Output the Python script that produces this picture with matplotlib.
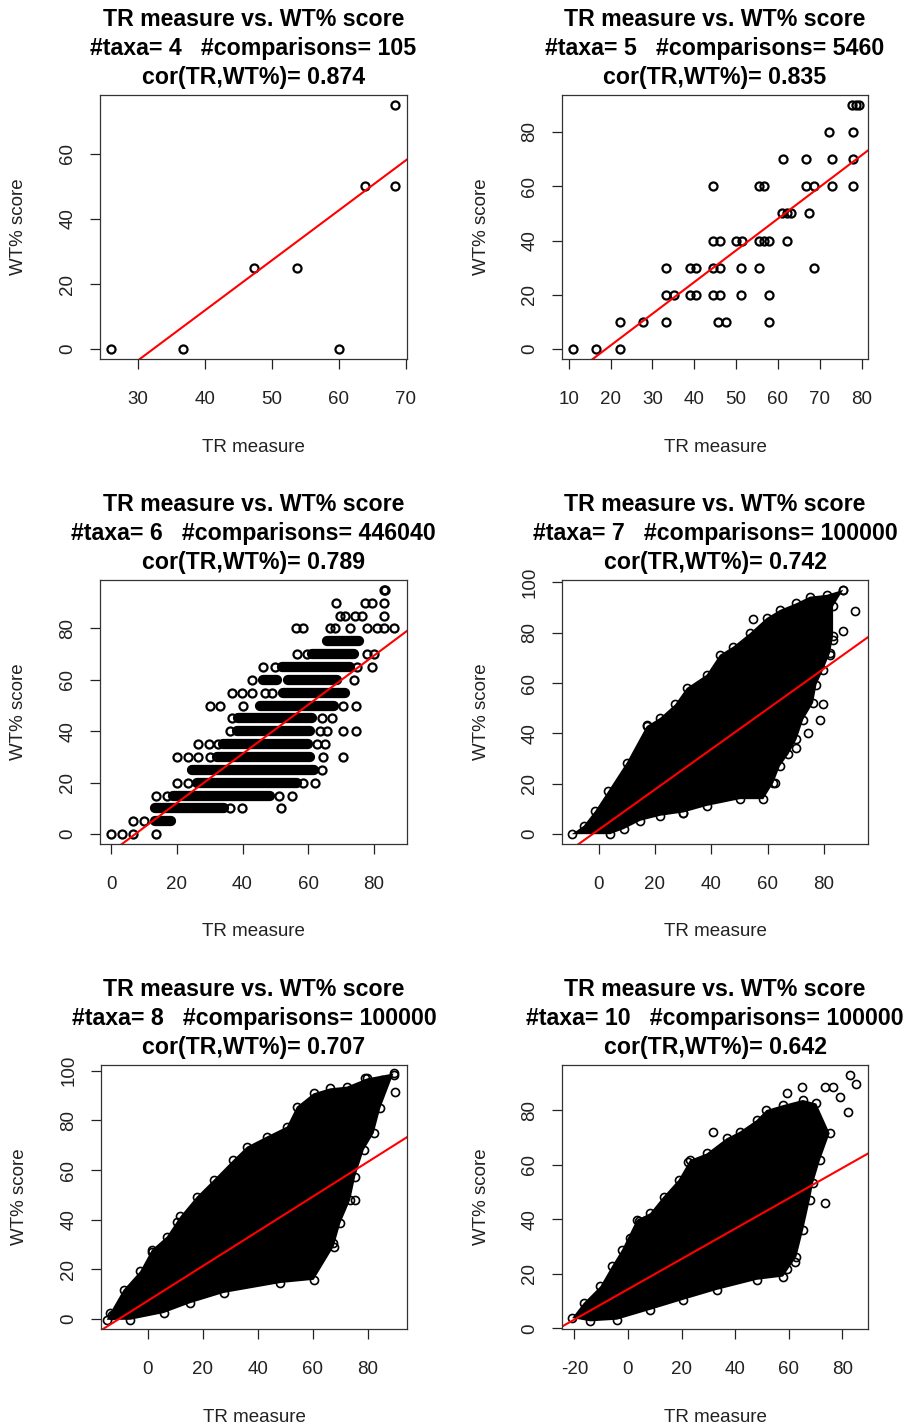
import matplotlib
matplotlib.use("Agg")
import matplotlib.pyplot as plt
import numpy as np

plt.rcParams["font.family"] = ["Liberation Sans", "DejaVu Sans"]
plt.rcParams["axes.unicode_minus"] = False

W, H = 906, 1428

# ---- panel 1: 4 taxa
P1_TR = [26.1, 36.8, 47.3, 53.8, 60.0, 64.0, 68.4, 68.4]
P1_WT = [0, 0, 25, 25, 0, 50, 50, 75]
P1_FIT = (-49.6, 1.536)            # intercept, slope of the red lm line

# ---- panel 2: 5 taxa (points grouped by WT% level)
P2_WT_LEVELS = [0, 10, 20, 30, 40, 50, 60, 70, 80, 90]
P2_TR_BY_LEVEL = [
    [11.0, 16.6, 22.2],
    [22.2, 27.8, 33.2, 45.7, 47.5, 57.8],
    [33.2, 35.1, 38.9, 40.5, 44.5, 46.1, 51.2, 57.8],
    [33.2, 38.9, 40.5, 44.5, 46.1, 51.2, 55.5, 68.5],
    [44.5, 46.1, 49.9, 51.5, 55.5, 56.7, 57.8, 62.1],
    [61.0, 62.2, 63.0, 67.4],
    [44.4, 55.5, 56.7, 66.6, 68.6, 73.0, 77.8],
    [61.2, 66.6, 73.0, 77.8],
    [72.2, 77.8],
    [77.6, 78.6, 79.4],
]
P2_FIT = (-22.0, 1.168)

# ---- panel 3: 6 taxa (solid runs of overlapping circles + single circles)
P3_WT_LEVELS = [0, 5, 10, 15, 20, 25, 30, 35, 40, 45, 50, 55, 60, 65, 70, 75, 80, 85, 90, 95]
P3_BANDS = [
    [], [(13.3, 18.3)], [(13.3, 34.4)], [(18.9, 48.4)], [(26.0, 56.6)],
    [(24.5, 61.7)], [(32.1, 60.7)], [(34.1, 60.1)], [(38.2, 60.7)], [(38.7, 61.2)],
    [(45.4, 67.8)], [(52.5, 71.4)], [(46.4, 50.5), (54.0, 68.8)], [(52.0, 72.9)],
    [(61.2, 73.9)], [(65.7, 75.4)], [], [], [], [],
]
P3_POINTS = [
    [0.0, 3.3, 6.6, 13.6],
    [6.6, 10.0],
    [36.2, 39.7, 51.8],
    [13.6, 16.8, 51.0, 55.0],
    [20.1, 23.4, 58.6, 62.2],
    [64.2],
    [20.1, 23.4, 26.5, 30.1, 64.7, 70.8],
    [26.5, 29.9, 32.6, 62.7, 65.2],
    [36.2, 63.7, 65.7, 70.8, 74.6],
    [36.7, 64.2, 67.3],
    [30.1, 33.1, 40.0, 70.8, 74.6],
    [36.7, 39.8, 42.8, 46.9, 48.9],
    [42.8, 73.9],
    [46.4, 50.0, 74.9, 79.5],
    [56.6, 59.6, 78.0, 80.0],
    [],
    [56.4, 58.6, 66.8, 68.3, 72.9, 78.0, 81.0, 83.1, 86.1],
    [69.8, 71.4, 74.4, 76.5, 83.1],
    [68.5, 77.5, 79.5, 83.1],
    [83.1, 83.6],
]
P3_FIT = (-6.85, 0.952)

# ---- panel 4: 7 taxa (dense cloud outline + stray points)
P4_HULL_TR = [-9.5, -5.3, -1.2, 3.5, 10.0, 17.1, 21.9, 27.2, 31.3, 38.4, 43.1, 47.9, 53.8,
              59.7, 64.4, 70.3, 75.1, 81.0, 86.9, 83.3, 83.3, 82.2, 79.8, 77.4, 76.2, 72.7,
              70.3, 67.4, 64.4, 62.1, 58.5, 50.2, 38.4, 30.1, 21.9, 14.8, 8.9, 4.1]
P4_HULL_WT = [0.0, 3.3, 9.2, 17.2, 28.4, 42.9, 46.2, 51.5, 58.0, 63.3, 71.2, 74.5, 79.8,
              85.8, 89.0, 91.7, 94.3, 95.0, 97.0, 90.4, 78.5, 71.9, 65.3, 59.4, 52.1, 45.5,
              37.6, 31.7, 27.0, 20.4, 13.9, 13.9, 11.2, 8.6, 7.3, 5.3, 2.0, 0.0]
P4_OUT_TR = [55.0, 91.0, 86.9, 83.3, 82.2, 79.6, 78.6, 74.5, 70.3, 62.6, 30.1, 17.1, 86.9]
P4_OUT_WT = [85.4, 88.4, 80.5, 77.2, 71.2, 51.5, 45.5, 40.2, 34.3, 20.4, 8.6, 43.3, 97.0]
P4_FIT = (1.75, 0.799)

# ---- panel 5: 8 taxa
P5_HULL_TR = [-14.8, -13.6, -8.7, -2.7, 1.6, 7.0, 11.9, 17.9, 24.0, 31.2, 36.1, 43.3, 50.6,
              54.2, 60.3, 66.3, 72.4, 79.7, 89.3, 84.5, 82.1, 78.5, 75.4, 73.6, 70.0, 67.6,
              60.3, 48.2, 27.6, 15.5, 5.8, -6.3]
P5_HULL_WT = [-0.3, 2.4, 11.8, 19.2, 27.9, 33.2, 41.3, 49.3, 56.0, 64.1, 69.4, 73.5, 77.5,
              85.5, 90.9, 92.9, 93.6, 96.9, 98.9, 84.9, 74.8, 68.1, 57.4, 48.0, 38.6, 29.2,
              15.8, 14.5, 10.5, 6.4, 2.4, -0.3]
P5_OUT_TR = [89.3, 89.9, 85.1, 79.1, 75.4, 67.3, 10.7, 1.6, -13.0]
P5_OUT_WT = [98.3, 91.6, 96.2, 96.9, 48.0, 30.6, 39.0, 27.2, 1.7]
P5_FIT = (7.3, 0.70)

# ---- panel 6: 10 taxa
P6_HULL_TR = [-20.8, -16.5, -10.3, -6.0, -2.2, 3.3, 8.3, 13.3, 18.9, 23.2, 29.4, 36.8, 41.8,
              48.0, 51.7, 57.9, 65.3, 70.3, 75.3, 71.7, 69.1, 67.9, 65.4, 62.9, 57.9, 48.0,
              33.1, 20.7, 8.3, -4.1, -14.0]
P6_HULL_WT = [3.8, 9.3, 15.4, 22.7, 28.8, 39.8, 42.2, 48.3, 54.4, 61.7, 64.1, 69.6, 72.1,
              76.3, 80.0, 81.8, 83.7, 82.4, 71.5, 61.7, 53.2, 47.1, 36.1, 26.3, 19.0, 17.8,
              14.1, 10.5, 6.8, 3.2, 2.6]
P6_OUT_TR = [82.8, 85.2, 82.1, 79.0, 73.4, 76.6, 64.8, 59.2, 31.6, 22.6, 73.4, 59.2, 62.3,
             0.9, 4.0]
P6_OUT_WT = [92.8, 89.4, 79.4, 84.9, 88.5, 88.5, 88.5, 86.3, 72.1, 61.1, 45.9, 21.8, 24.5,
             33.0, 39.5]
P6_FIT = (14.35, 0.555)

TAXA = [4, 5, 6, 7, 8, 10]
COMPARISONS = [105, 5460, 446040, 100000, 100000, 100000]
CORS = ["0.874", "0.835", "0.789", "0.742", "0.707", "0.642"]

XLIMS = [(24.4, 70.2), (8.4, 81.5), (-3.5, 90.2), (-13.0, 95.7), (-16.9, 94.2), (-24.6, 89.6)]
YLIMS = [(-3.0, 78.0), (-3.6, 93.6), (-3.8, 98.8), (-3.9, 100.9), (-4.0, 102.3), (-0.2, 96.5)]
XTICKS = [range(30, 71, 10), range(10, 81, 10), range(0, 81, 20),
          range(0, 81, 20), range(0, 81, 20), range(-20, 81, 20)]
YTICKS = [range(0, 61, 20), range(0, 81, 20), range(0, 81, 20),
          range(0, 101, 20), range(0, 101, 20), range(0, 81, 20)]

# pixel boxes (left, top, right, bottom)
BOXES = [(100, 95, 407, 359), (562, 95, 868, 359),
         (100, 580, 407, 844), (562, 580, 868, 844),
         (101, 1065, 407, 1329), (562, 1065, 868, 1329)]

MS, MEW = 5.8, 1.6
ring = dict(ls="none", marker="o", ms=MS, mfc="none", mec="black", mew=MEW)


def fx(px):
    return px / W


def fy(py):
    return 1 - py / H


fig = plt.figure(figsize=(W / 100, H / 100), dpi=100)
axes = []
for i, (l, t, r, b) in enumerate(BOXES):
    ax = fig.add_axes([fx(l), fy(b), (r - l) / W, (b - t) / H])
    ax.set_xlim(*XLIMS[i])
    ax.set_ylim(*YLIMS[i])
    ax.set_xticks(list(XTICKS[i]))
    ax.set_yticks(list(YTICKS[i]))
    ax.tick_params(direction="out", length=7, width=0.9, labelsize=13.5, colors="#222222")
    ax.tick_params(axis="x", pad=16)
    ax.tick_params(axis="y", pad=10)
    plt.setp(ax.get_yticklabels(), rotation=90, va="center")
    for s in ax.spines.values():
        s.set_linewidth(0.9)
        s.set_color("#333333")
    cx = (l + r) / 2
    lines = ["TR measure vs. WT% score",
             f"#taxa= {TAXA[i]}   #comparisons= {COMPARISONS[i]}",
             f"cor(TR,WT%)= {CORS[i]}"]
    for k, txt in enumerate(lines):
        fig.text(fx(cx), fy(t - 75.5 + 29 * k), txt, ha="center", va="center",
                 fontsize=16.7, fontweight="bold")
    fig.text(fx(cx), fy(b + 88), "TR measure", ha="center", va="center", fontsize=13.5,
             color="#222222")
    fig.text(fx(l - 81), fy((t + b) / 2), "WT% score", ha="center", va="center",
             rotation=90, fontsize=13.5, color="#222222")
    axes.append(ax)

# panel 1
axes[0].plot(P1_TR, P1_WT, **ring)

# panel 2
for wt, trs in zip(P2_WT_LEVELS, P2_TR_BY_LEVEL):
    axes[1].plot(trs, [wt] * len(trs), **ring)

# panel 3
for wt, bands, pts in zip(P3_WT_LEVELS, P3_BANDS, P3_POINTS):
    for x0, x1 in bands:
        axes[2].plot([x0, x1], [wt, wt], color="black", lw=MS + MEW,
                     solid_capstyle="round")
    axes[2].plot(pts, [wt] * len(pts), **ring)

# panels 4-6: dense clouds
for ax, htr, hwt, otr, owt in [
        (axes[3], P4_HULL_TR, P4_HULL_WT, P4_OUT_TR, P4_OUT_WT),
        (axes[4], P5_HULL_TR, P5_HULL_WT, P5_OUT_TR, P5_OUT_WT),
        (axes[5], P6_HULL_TR, P6_HULL_WT, P6_OUT_TR, P6_OUT_WT)]:
    ax.fill(htr, hwt, color="black", lw=0)
    ax.plot(htr, hwt, **dict(ring, mew=1.2))
    ax.plot(otr, owt, **dict(ring, mew=1.2))

# red regression lines
for ax, (a, b) in zip(axes, [P1_FIT, P2_FIT, P3_FIT, P4_FIT, P5_FIT, P6_FIT]):
    xs = np.array(ax.get_xlim())
    ax.plot(xs, a + b * xs, color="#ff0000", lw=1.5)
    ax.set_xlim(*xs)

fig.savefig("out.png", dpi=100)
